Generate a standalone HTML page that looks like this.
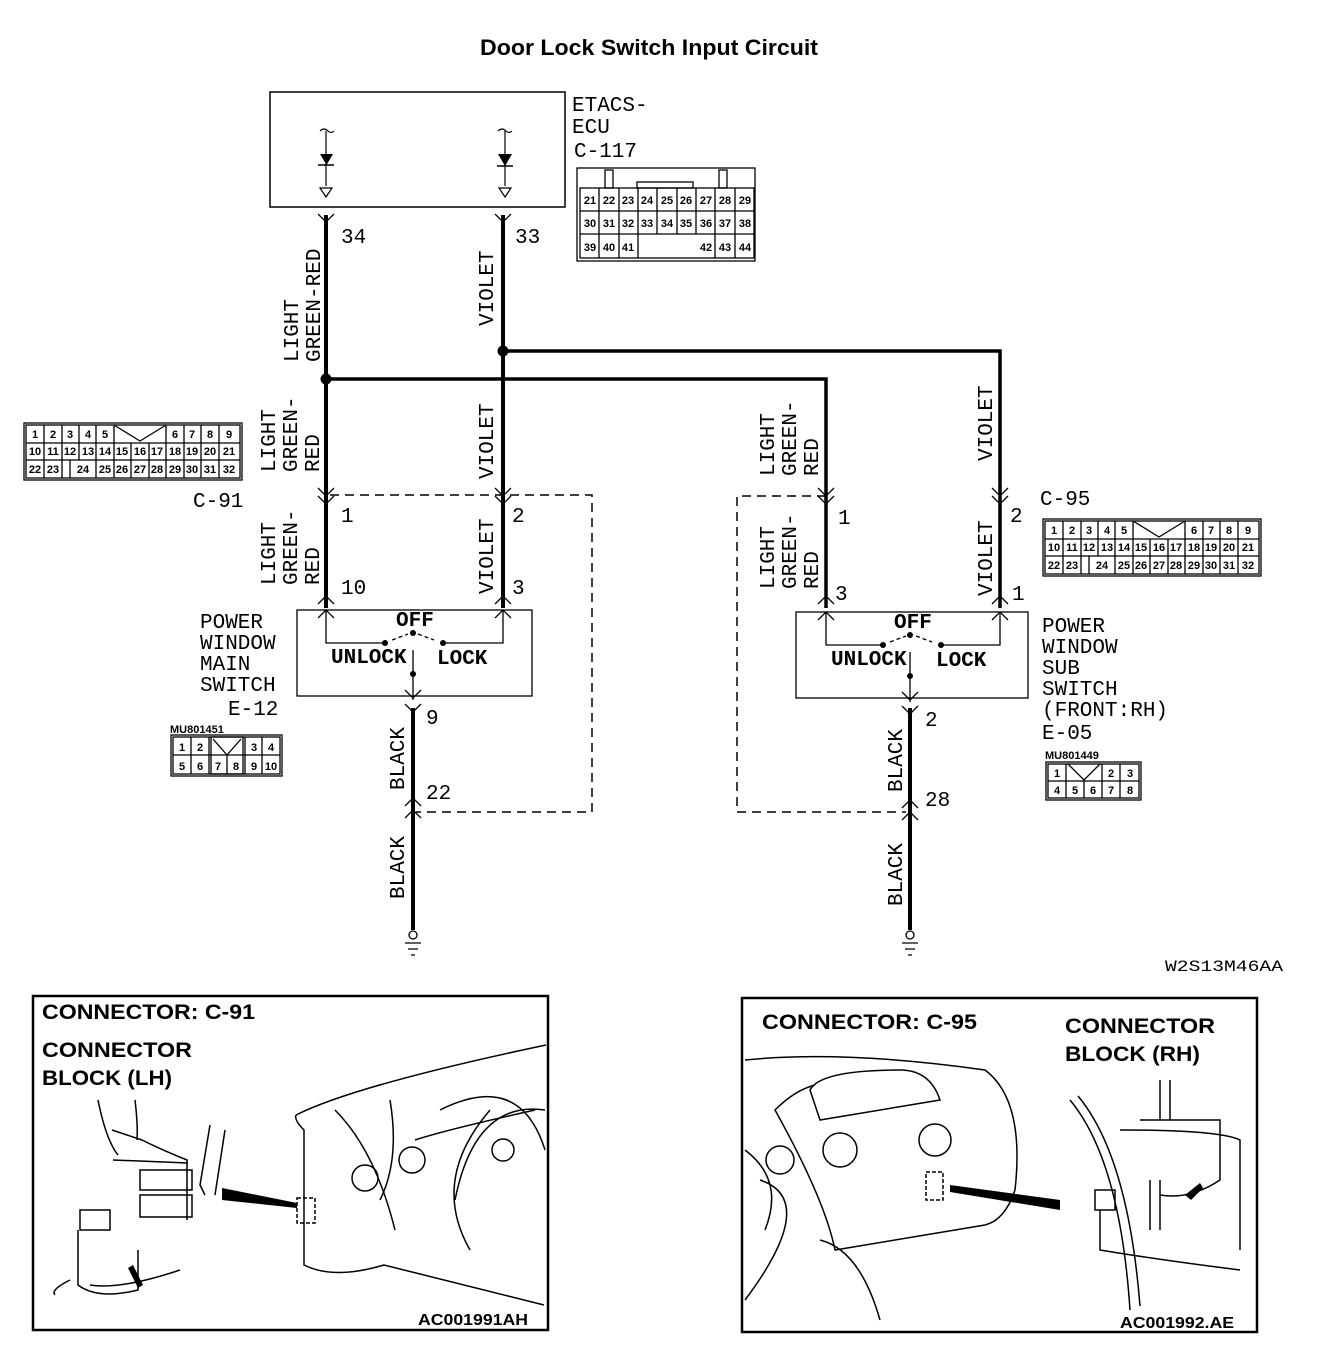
<!DOCTYPE html>
<html><head><meta charset="utf-8"><style>
html,body{margin:0;padding:0;background:#fff}
svg{display:block}
.m{font-family:"Liberation Mono",monospace;font-size:21px;fill:#000}
.s{font-family:"Liberation Sans",sans-serif;font-weight:bold;fill:#000}
.g{font-family:"Liberation Sans",sans-serif;font-weight:bold;font-size:11px;fill:#000}
</style></head><body>
<svg width="1328" height="1370" viewBox="0 0 1328 1370" xmlns="http://www.w3.org/2000/svg">
<text x="649" y="55" text-anchor="middle" class="s" font-size="22" textLength="338" lengthAdjust="spacingAndGlyphs">Door Lock Switch Input Circuit</text>

<!-- ECU -->
<rect x="270" y="92" width="295" height="115" fill="none" stroke="#000" stroke-width="1.5"/>
<g stroke="#000" stroke-width="1.2" fill="none">
<path d="M320 131 q4 -4 8 0 q3 3 6 0 M326 131 V186 M498 131 q4 -4 8 0 q3 3 6 0 M505 131 V186"/>
<path d="M320 188 h12 l-6 9 z M499 188 h12 l-6 9 z"/>
</g>
<path d="M320 154 h13 l-6.5 11 z M498 154 h14 l-7 12 z" fill="#000"/>
<path d="M318 165 h16 M497 166 h16" stroke="#000" stroke-width="1.5"/>
<text x="572" y="111" class="m" font-size="22">ETACS-</text>
<text x="572" y="133" class="m" font-size="22">ECU</text>
<text x="574" y="157" class="m" font-size="22">C-117</text>

<!-- C-117 grid -->
<g stroke="#000" stroke-width="1.3" fill="none">
<rect x="577" y="168" width="178" height="93"/>
<rect x="605" y="170" width="8" height="18"/><rect x="719" y="170" width="8" height="18"/>
<rect x="637" y="182" width="56" height="6"/>
<rect x="580" y="188" width="174" height="70"/>
<path d="M580 211 H754 M580 234 H754 M599 188 V258 M619 188 V258 M638 188 V258 M657 188 V234 M677 188 V234 M696 188 V234 M715 188 V258 M735 188 V258 M638 234 H702"/>
</g>
<g class="g" text-anchor="middle">
<text x="590" y="204">21</text><text x="609" y="204">22</text><text x="628" y="204">23</text><text x="647" y="204">24</text><text x="667" y="204">25</text><text x="686" y="204">26</text><text x="706" y="204">27</text><text x="725" y="204">28</text><text x="745" y="204">29</text>
<text x="590" y="227">30</text><text x="609" y="227">31</text><text x="628" y="227">32</text><text x="647" y="227">33</text><text x="667" y="227">34</text><text x="686" y="227">35</text><text x="706" y="227">36</text><text x="725" y="227">37</text><text x="745" y="227">38</text>
<text x="590" y="251">39</text><text x="609" y="251">40</text><text x="628" y="251">41</text><text x="706" y="251">42</text><text x="725" y="251">43</text><text x="745" y="251">44</text>
</g>

<!-- wires -->
<g stroke="#000" stroke-width="4" fill="none">
<path d="M326 215 V608"/>
<path d="M503 215 V608"/>
<path d="M326 379 H826 V608" stroke-width="3.5"/>
<path d="M503 351 H1000 V608" stroke-width="3.5"/>
<path d="M413 708 V930"/>
<path d="M910 708 V930"/>
</g>
<circle cx="326" cy="379" r="5.5"/><circle cx="503" cy="351" r="5.5"/>
<g stroke="#000" stroke-width="1.3" fill="none">
<path d="M318 214 l8 8 l8 -8 M495 214 l8 8 l8 -8"/>
<path d="M318 488 l8 8 l8 -8 M495 488 l8 8 l8 -8 M818 488 l8 8 l8 -8 M992 488 l8 8 l8 -8"/>
<path d="M318 496 l8 8 l8 -8 M495 496 l8 8 l8 -8 M818 496 l8 8 l8 -8 M992 496 l8 8 l8 -8"/>
<path d="M318 604 l8 -8 l8 8 M495 604 l8 -8 l8 8 M818 604 l8 -8 l8 8 M992 604 l8 -8 l8 8"/>
<path d="M318 618 l8 -8 l8 8 M495 618 l8 -8 l8 8 M818 620 l8 -8 l8 8 M992 620 l8 -8 l8 8"/>
<path d="M405 690 l8 8 l8 -8 M405 704 l8 8 l8 -8 M902 692 l8 8 l8 -8 M902 706 l8 8 l8 -8"/>
<path d="M405 818 l8 -8 l8 8 M405 806 l8 -8 l8 8 M902 820 l8 -8 l8 8 M902 808 l8 -8 l8 8"/>
</g>
<g stroke="#000" stroke-width="1.5" fill="none" stroke-dasharray="9 6">
<path d="M330 495 H592 V812 H416"/>
<path d="M826 496 H737 V812 H906"/>
</g>
<g stroke="#000" stroke-width="1.3" fill="none">
<rect x="297" y="610" width="235" height="86"/>
<path d="M326 610 V643 H384 M503 610 V643 H444 M413 650 V700"/>
<path d="M392 640 l16 -6 M418 634 l16 6" stroke-dasharray="4 3"/>
<rect x="796" y="612" width="232" height="86"/>
<path d="M826 612 V645 H882 M1000 612 V645 H942 M910 652 V702"/>
<path d="M890 642 l16 -6 M916 636 l16 6" stroke-dasharray="4 3"/>
</g>
<circle cx="385" cy="643" r="3"/><circle cx="443" cy="643" r="3"/><circle cx="413" cy="633" r="3"/><circle cx="413" cy="674" r="3"/>
<circle cx="883" cy="645" r="3"/><circle cx="941" cy="645" r="3"/><circle cx="910" cy="635" r="3"/><circle cx="910" cy="676" r="3"/>
<g class="m" font-size="15" font-weight="bold">
<text x="396" y="626">OFF</text><text x="331" y="663">UNLOCK</text><text x="437" y="664">LOCK</text>
<text x="894" y="628">OFF</text><text x="831" y="665">UNLOCK</text><text x="936" y="666">LOCK</text>
</g>

<g stroke="#000" stroke-width="1.3" fill="none">
<circle cx="413" cy="935" r="4"/><path d="M405 943 h16 M408 949 h10 M411 955 h4"/>
<circle cx="910" cy="935" r="4"/><path d="M902 943 h16 M905 949 h10 M908 955 h4"/>
</g>

<g class="m">
<text x="341" y="243">34</text><text x="515" y="243">33</text>
<text x="341" y="522">1</text><text x="512" y="522">2</text>
<text x="341" y="594">10</text><text x="512" y="594">3</text>
<text x="426" y="724">9</text><text x="426" y="799">22</text>
<text x="838" y="524">1</text><text x="1010" y="522">2</text>
<text x="835" y="600">3</text><text x="1012" y="600">1</text>
<text x="925" y="726">2</text><text x="925" y="806">28</text>
<text x="193" y="507">C-91</text><text x="1040" y="505">C-95</text>
</g>

<g class="m" font-size="21">
<text transform="translate(298,362) rotate(-90)">LIGHT</text>
<text transform="translate(320,362) rotate(-90)">GREEN-RED</text>
<text transform="translate(493,326) rotate(-90)">VIOLET</text>
<text transform="translate(275,472) rotate(-90)">LIGHT</text>
<text transform="translate(297,472) rotate(-90)">GREEN-</text>
<text transform="translate(319,472) rotate(-90)">RED</text>
<text transform="translate(493,479) rotate(-90)">VIOLET</text>
<text transform="translate(275,585) rotate(-90)">LIGHT</text>
<text transform="translate(297,585) rotate(-90)">GREEN-</text>
<text transform="translate(319,585) rotate(-90)">RED</text>
<text transform="translate(493,594) rotate(-90)">VIOLET</text>
<text transform="translate(774,476) rotate(-90)">LIGHT</text>
<text transform="translate(796,476) rotate(-90)">GREEN-</text>
<text transform="translate(818,476) rotate(-90)">RED</text>
<text transform="translate(992,461) rotate(-90)">VIOLET</text>
<text transform="translate(774,589) rotate(-90)">LIGHT</text>
<text transform="translate(796,589) rotate(-90)">GREEN-</text>
<text transform="translate(818,589) rotate(-90)">RED</text>
<text transform="translate(992,596) rotate(-90)">VIOLET</text>
<text transform="translate(404,790) rotate(-90)">BLACK</text>
<text transform="translate(404,899) rotate(-90)">BLACK</text>
<text transform="translate(902,792) rotate(-90)">BLACK</text>
<text transform="translate(902,906) rotate(-90)">BLACK</text>
</g>

<g class="m" font-size="21">
<text x="200" y="628">POWER</text><text x="200" y="649">WINDOW</text><text x="200" y="670">MAIN</text><text x="200" y="691">SWITCH</text>
<text x="228" y="715">E-12</text>
<text x="1042" y="632">POWER</text><text x="1042" y="653">WINDOW</text><text x="1042" y="674">SUB</text><text x="1042" y="695">SWITCH</text>
<text x="1042" y="716">(FRONT:RH)</text><text x="1042" y="739">E-05</text>
<text x="1165" y="971" font-size="16" textLength="118" lengthAdjust="spacingAndGlyphs">W2S13M46AA</text>
</g>

<!-- C-91 grid -->
<g stroke="#000" stroke-width="1.3" fill="none">
<rect x="24" y="423" width="218" height="57"/>
<rect x="26" y="425" width="214" height="53"/>
<path d="M26 443 H240 M26 460 H240"/>
<path d="M44 425 V478 M62 425 V478 M79 425 V443 M96 425 V443 M114 425 V443 M166 425 V443 M184 425 V443 M201 425 V478 M219 425 V478"/>
<path d="M79 443 V460 M96 443 V478 M114 443 V478 M131 443 V478 M149 443 V478 M166 443 V478 M184 443 V478 M70 460 V478"/>
<path d="M114 425 L140 441 L166 425"/>
</g>
<g class="g" text-anchor="middle" font-size="10">
<text x="35" y="438">1</text><text x="53" y="438">2</text><text x="70" y="438">3</text><text x="88" y="438">4</text><text x="105" y="438">5</text><text x="175" y="438">6</text><text x="192" y="438">7</text><text x="210" y="438">8</text><text x="229" y="438">9</text>
<text x="35" y="455">10</text><text x="53" y="455">11</text><text x="70" y="455">12</text><text x="88" y="455">13</text><text x="105" y="455">14</text><text x="122" y="455">15</text><text x="140" y="455">16</text><text x="157" y="455">17</text><text x="175" y="455">18</text><text x="192" y="455">19</text><text x="210" y="455">20</text><text x="229" y="455">21</text>
<text x="35" y="473">22</text><text x="53" y="473">23</text><text x="83" y="473">24</text><text x="105" y="473">25</text><text x="122" y="473">26</text><text x="140" y="473">27</text><text x="157" y="473">28</text><text x="175" y="473">29</text><text x="192" y="473">30</text><text x="210" y="473">31</text><text x="229" y="473">32</text>
</g>
<!-- C-95 grid -->
<g transform="translate(1019,96)">
<g stroke="#000" stroke-width="1.3" fill="none">
<rect x="24" y="423" width="218" height="57"/>
<rect x="26" y="425" width="214" height="53"/>
<path d="M26 443 H240 M26 460 H240"/>
<path d="M44 425 V478 M62 425 V478 M79 425 V443 M96 425 V443 M114 425 V443 M166 425 V443 M184 425 V443 M201 425 V478 M219 425 V478"/>
<path d="M79 443 V460 M96 443 V478 M114 443 V478 M131 443 V478 M149 443 V478 M166 443 V478 M184 443 V478 M70 460 V478"/>
<path d="M114 425 L140 441 L166 425"/>
</g>
<g class="g" text-anchor="middle" font-size="10">
<text x="35" y="438">1</text><text x="53" y="438">2</text><text x="70" y="438">3</text><text x="88" y="438">4</text><text x="105" y="438">5</text><text x="175" y="438">6</text><text x="192" y="438">7</text><text x="210" y="438">8</text><text x="229" y="438">9</text>
<text x="35" y="455">10</text><text x="53" y="455">11</text><text x="70" y="455">12</text><text x="88" y="455">13</text><text x="105" y="455">14</text><text x="122" y="455">15</text><text x="140" y="455">16</text><text x="157" y="455">17</text><text x="175" y="455">18</text><text x="192" y="455">19</text><text x="210" y="455">20</text><text x="229" y="455">21</text>
<text x="35" y="473">22</text><text x="53" y="473">23</text><text x="83" y="473">24</text><text x="105" y="473">25</text><text x="122" y="473">26</text><text x="140" y="473">27</text><text x="157" y="473">28</text><text x="175" y="473">29</text><text x="192" y="473">30</text><text x="210" y="473">31</text><text x="229" y="473">32</text>
</g></g>

<!-- E-12 grid -->
<text x="170" y="733" class="g">MU801451</text>
<g stroke="#000" stroke-width="1.3" fill="none">
<rect x="171" y="735" width="111" height="41"/><rect x="173" y="737" width="107" height="37"/>
<path d="M173 755 H280 M191 737 V774 M209 737 V774 M245 737 V774 M262 737 V774 M227 755 V774"/>
<rect x="211" y="737" width="32" height="37"/><path d="M213 739 L227 755 L241 739"/>
</g>
<g class="g" text-anchor="middle" font-size="11">
<text x="182" y="751">1</text><text x="200" y="751">2</text><text x="254" y="751">3</text><text x="271" y="751">4</text>
<text x="182" y="770">5</text><text x="200" y="770">6</text><text x="218" y="770">7</text><text x="236" y="770">8</text><text x="254" y="770">9</text><text x="271" y="770">10</text>
</g>
<!-- E-05 grid -->
<text x="1045" y="759" class="g">MU801449</text>
<g stroke="#000" stroke-width="1.3" fill="none">
<rect x="1046" y="762" width="95" height="38"/><rect x="1048" y="764" width="91" height="34"/>
<path d="M1048 781 H1139 M1066 764 V798 M1084 781 V798 M1102 764 V798 M1120 764 V798"/>
<path d="M1068 764 L1084 780 L1100 764"/>
</g>
<g class="g" text-anchor="middle" font-size="11">
<text x="1057" y="777">1</text><text x="1111" y="777">2</text><text x="1130" y="777">3</text>
<text x="1057" y="794">4</text><text x="1075" y="794">5</text><text x="1093" y="794">6</text><text x="1111" y="794">7</text><text x="1130" y="794">8</text>
</g>

<!-- Bottom left frame -->
<rect x="33" y="996" width="515" height="334" fill="none" stroke="#000" stroke-width="2.5"/>
<text x="42" y="1019" class="s" font-size="21" textLength="213" lengthAdjust="spacingAndGlyphs">CONNECTOR: C-91</text>
<text x="42" y="1057" class="s" font-size="21" textLength="150" lengthAdjust="spacingAndGlyphs">CONNECTOR</text>
<text x="42" y="1085" class="s" font-size="21" textLength="130" lengthAdjust="spacingAndGlyphs">BLOCK (LH)</text>
<text x="418" y="1325" class="s" font-size="16" textLength="110" lengthAdjust="spacingAndGlyphs">AC001991AH</text>
<g stroke="#000" stroke-width="1.5" fill="none">
<path d="M98 1100 q8 40 20 55 M135 1100 q3 25 2 40 M112 1130 l30 10 q20 10 45 20 l0 60 M113 1160 l75 3"/>
<rect x="140" y="1170" width="52" height="20"/><rect x="140" y="1195" width="52" height="22"/>
<path d="M80 1210 h30 v20 h-30z M78 1230 l0 55 q20 15 60 5 l0 -40 M90 1285 q30 5 90 -15 M70 1280 q-20 10 -15 15 M210 1125 l-10 60 l5 10 M225 1130 l-10 65"/>
<path d="M296 1115 q60 -30 250 -70 M296 1115 q-2 5 8 15 l0 135 q30 15 80 0 l160 40 M335 1110 q40 40 60 120 M390 1100 q10 60 -10 100 M440 1110 q80 -40 105 40 M415 1140 q30 -10 120 -30"/>
<circle cx="365" cy="1178" r="13"/><circle cx="412" cy="1160" r="13"/><circle cx="503" cy="1150" r="11"/>
<path d="M455 1200 q20 -100 90 -90 M470 1250 q-40 -70 20 -140"/>
<rect x="297" y="1198" width="18" height="25" stroke-dasharray="4 2"/>
</g>
<path d="M222 1188 L297 1203 L297 1208 L222 1200 z" fill="#000"/>
<path d="M128 1268 l10 20 l5 -3 l-10 -20 z" fill="#000"/>

<!-- Bottom right frame -->
<rect x="742" y="998" width="515" height="334" fill="none" stroke="#000" stroke-width="2.5"/>
<text x="762" y="1029" class="s" font-size="21" textLength="215" lengthAdjust="spacingAndGlyphs">CONNECTOR: C-95</text>
<text x="1065" y="1033" class="s" font-size="21" textLength="150" lengthAdjust="spacingAndGlyphs">CONNECTOR</text>
<text x="1065" y="1061" class="s" font-size="21" textLength="135" lengthAdjust="spacingAndGlyphs">BLOCK (RH)</text>
<text x="1120" y="1328" class="s" font-size="16" textLength="114" lengthAdjust="spacingAndGlyphs">AC001992.AE</text>
<g stroke="#000" stroke-width="1.5" fill="none">
<path d="M745 1060 q100 -10 240 10 q40 30 30 120 q-10 30 -30 35 l-150 25 q-10 -50 -60 -140 q20 -20 40 -25 M810 1090 q10 -20 90 -20 q30 0 40 30 q-60 10 -120 20 z M745 1150 q40 30 20 80 M760 1180 q60 20 -15 120 M820 1240 q40 10 60 80"/>
<circle cx="780" cy="1160" r="14"/><circle cx="840" cy="1150" r="17"/><circle cx="935" cy="1140" r="16"/>
<rect x="926" y="1172" width="17" height="28" stroke-dasharray="4 2"/>
<path d="M1070 1100 q50 60 60 210 M1078 1096 q50 60 62 210 M1160 1080 v40 M1170 1080 v40 M1140 1120 h80 v60 q-30 20 -60 15 M1095 1190 h20 v20 h-20z M1160 1180 v50 M1150 1180 v50 M1100 1210 v40 q60 10 140 20 M1120 1130 q100 0 120 10 v110"/>
</g>
<path d="M950 1185 L1060 1200 L1060 1210 L950 1192 z" fill="#000"/>
<path d="M1185 1195 l15 -12 l3 5 l-12 12 z" fill="#000"/>
</svg>
</body></html>
